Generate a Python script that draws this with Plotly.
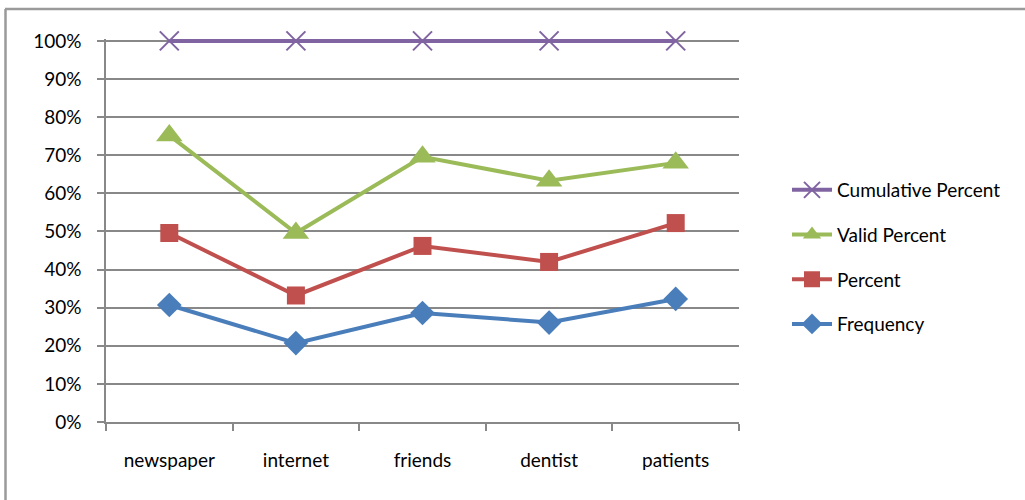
import plotly.graph_objects as go

# Information sources and their shares (%)
categories = ["newspaper", "internet", "friends", "dentist", "patients"]
frequency = [30.7, 20.7, 28.6, 26.1, 32.3]
percent = [49.6, 33.2, 46.2, 42.0, 52.2]
valid_percent = [75.2, 49.6, 69.6, 63.3, 68.0]
cumulative_percent = [100, 100, 100, 100, 100]

y_ticks = list(range(0, 101, 10))
y_tick_labels = [f"{v}%" for v in y_ticks]

FONT = "Lato, 'Open Sans', sans-serif"
FS = 19
GRID = "#888888"

W, H = 1025, 500
ML, MR, MT, MB = 106, 286, 39, 78
PW, PH = W - ML - MR, H - MT - MB


def px_x(p):
    return (p - ML) / PW


def px_y(p):
    return 1 - (p - MT) / PH


# name, values, colour, marker, legend position (top = 1)
series = [
    ("Frequency", frequency, "#4A7EBB", dict(symbol="diamond", size=19), 4),
    ("Percent", percent, "#C0504D", dict(symbol="square", size=18), 3),
    ("Valid Percent", valid_percent, "#9BBB59", dict(symbol="triangle-up", size=23), 2),
    ("Cumulative Percent", cumulative_percent, "#8064A2",
     dict(symbol="x-thin", size=19, line=dict(width=2, color="#8064A2")), 1),
]

fig = go.Figure()
for name, vals, color, marker, rank in series:
    fig.add_trace(go.Scatter(
        x=categories, y=vals, name=name, legendgroup=name, legendrank=rank,
        mode="lines+markers", cliponaxis=False,
        line=dict(color=color, width=4),
        marker=dict(color=color, **marker),
    ))

fig.update_layout(
    width=W, height=H,
    margin=dict(l=ML, r=MR, t=MT, b=MB, pad=0),
    paper_bgcolor="white", plot_bgcolor="white",
    font=dict(family=FONT, size=FS, color="black"),
    showlegend=True,
    legend=dict(
        traceorder="grouped", tracegroupgap=17,
        xref="container", yref="container",
        x=787 / W, y=1 - 171 / H, xanchor="left", yanchor="top",
        font=dict(family=FONT, size=FS, color="black"),
        bgcolor="rgba(0,0,0,0)", itemwidth=40,
    ),
    xaxis=dict(
        range=[-0.5, 4.5], showgrid=False, zeroline=False,
        showline=True, linecolor=GRID, linewidth=1.5,
        ticks="outside", tickson="boundaries", ticklen=7,
        tickcolor=GRID, tickwidth=1.5, ticklabelstandoff=20,
        tickfont=dict(family=FONT, size=FS),
    ),
    yaxis=dict(
        # a little headroom so the 100% line is not cut in half
        range=[0, 100.5], tickvals=y_ticks, ticktext=y_tick_labels,
        showgrid=True, gridcolor=GRID, gridwidth=1.5,
        zeroline=False, showline=True, linecolor=GRID, linewidth=1.5,
        ticks="outside", ticklen=7, tickcolor=GRID, tickwidth=1.5,
        ticklabelstandoff=12, tickfont=dict(family=FONT, size=FS),
    ),
    shapes=[
        dict(type="line", xref="paper", yref="paper",
             x0=px_x(5), x1=px_x(W), y0=px_y(9), y1=px_y(9),
             line=dict(color="#9a9a9a", width=2.5)),
        dict(type="line", xref="paper", yref="paper",
             x0=px_x(5.5), x1=px_x(5.5), y0=px_y(9), y1=px_y(H),
             line=dict(color="#9a9a9a", width=2.5)),
    ],
)

fig.write_html("out.html")
